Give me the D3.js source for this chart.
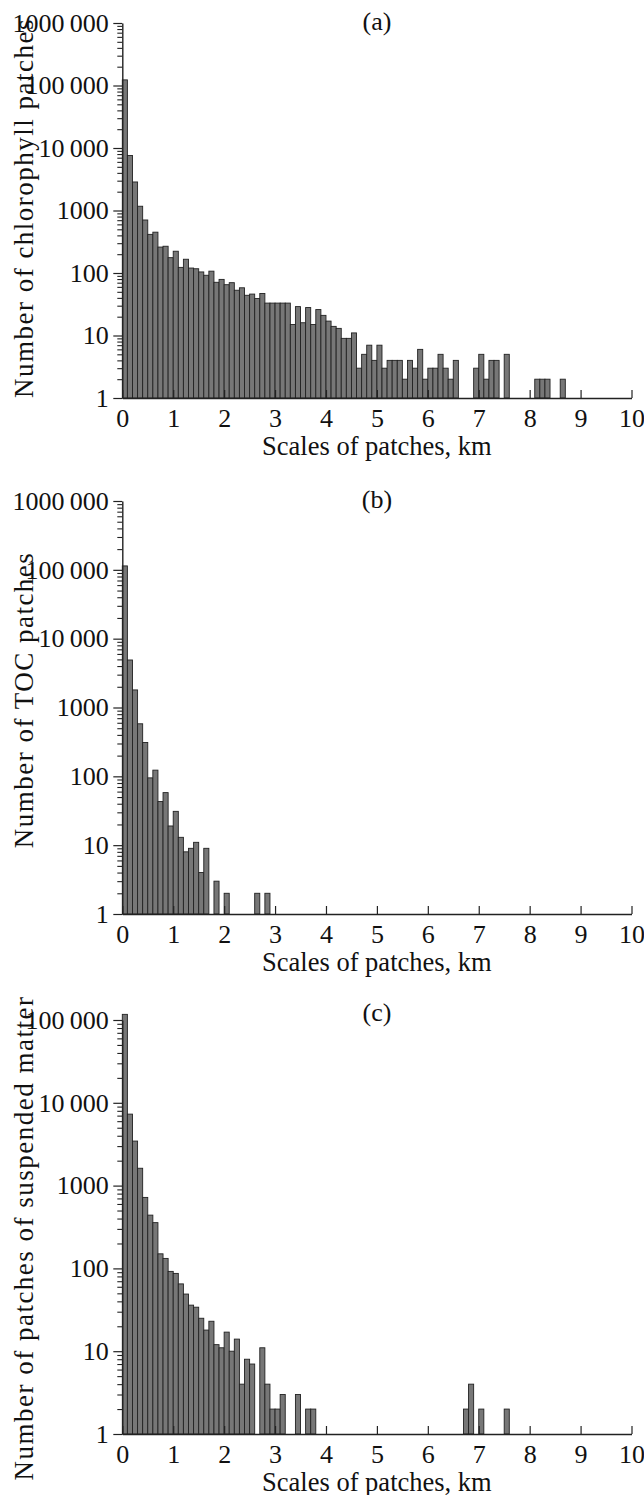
<!DOCTYPE html>
<html>
<head>
<meta charset="utf-8">
<script src="https://cdn.jsdelivr.net/npm/d3@7"></script>
<style>
  body { margin: 0; background: #fff; }
  text { font-family: "Liberation Serif", "Times New Roman", serif; fill: #111; }
</style>
</head>
<body>
<svg id="chart"></svg>
<script>
var width = 644,
  height = 1495;

// bin width of the histograms, km
var binWidth = 0.1;

// counts per 0.1 km bin, starting at 0 km
var chlorophyll = [
  123000, 7600, 2860, 1170, 705, 415, 450, 260, 268, 176,
  223, 123, 166, 120, 117, 104, 92, 107, 71, 79,
  65, 70, 53, 58, 44, 46, 39, 47, 33, 33,
  33, 33, 33, 15, 29, 16, 28, 15, 26, 21,
  17, 14, 13, 9, 9, 11, 3, 5, 7, 4,
  7, 3, 4, 4, 4, 2, 4, 3, 6, 2,
  3, 3, 5, 3, 2, 4, 0, 0, 0, 3,
  5, 2, 4, 4, 0, 5, 0, 0, 0, 0,
  0, 2, 2, 2, 0, 0, 2
];

var toc = [
  114000, 4900, 1800, 580, 310, 95, 123, 43, 58, 19,
  31, 13, 8, 9, 11, 4, 9, 0, 3, 0,
  2, 0, 0, 0, 0, 0, 2, 0, 2
];

var suspended = [
  117000, 7300, 3450, 1620, 720, 440, 357, 150, 132, 92,
  87, 65, 49, 36, 34, 25, 18, 23, 12, 11,
  17, 10, 14, 4, 8, 7, 0, 11, 4, 2,
  2, 3, 0, 0, 3, 0, 2, 2, 0, 0,
  0, 0, 0, 0, 0, 0, 0, 0, 0, 0,
  0, 0, 0, 0, 0, 0, 0, 0, 0, 0,
  0, 0, 0, 0, 0, 0, 0, 2, 4, 0,
  2, 0, 0, 0, 0, 2
];

var xTicks = [0, 1, 2, 3, 4, 5, 6, 7, 8, 9, 10];
var yTicksLong = [1, 10, 100, 1000, 10000, 100000, 1000000];
var yTicksShort = [1, 10, 100, 1000, 10000, 100000];

var xTitle = 'Scales of patches, km';
var yTitles = [
  'Number of chlorophyll patches',
  'Number of TOC patches',
  'Number of patches of suspended matter'
];
var letters = ['(a)', '(b)', '(c)'];

var panels = [
  { data: chlorophyll, ticks: yTicksLong, top: 23, bottom: 398, letterY: 30, titleY: 208 },
  { data: toc, ticks: yTicksLong, top: 501, bottom: 914, letterY: 508, titleY: 700 },
  { data: suspended, ticks: yTicksShort, top: 1020, bottom: 1434, letterY: 1021, titleY: 1238 }
];

var left = 122.3,
  right = 631.5;

var svg = d3.select('#chart')
  .attr('width', width)
  .attr('height', height);

var x = d3.scaleLinear()
  .domain([0, 10])
  .range([left, right]);

function fmt(d) {
  var s = String(d);
  // thin space as thousands separator, as in the print
  if (s.length > 4) s = s.slice(0, s.length - 3) + '\u2009' + s.slice(-3);
  return s;
}

panels.forEach(function(p, idx) {
  var y = d3.scaleLog()
    .domain([1, p.ticks[p.ticks.length - 1]])
    .range([p.bottom, p.top]);

  var g = svg.append('g');

  var minor = [];
  p.ticks.slice(0, -1).forEach(function(t) {
    for (var k = 2; k < 10; k++) minor.push(t * k);
  });

  // bars
  g.selectAll('.bar')
    .data(p.data.map(function(v, i) { return { i: i, v: v }; })
      .filter(function(d) { return d.v > 1; }))
    .enter().append('rect')
    .attr('class', 'bar')
    .attr('x', function(d) { return x(d.i * binWidth); })
    .attr('width', x(binWidth) - x(0))
    .attr('y', function(d) { return y(d.v); })
    .attr('height', function(d) { return y(1) - y(d.v); })
    .attr('fill', '#777')
    .attr('stroke', '#222')
    .attr('stroke-width', 0.9);

  // y axis, minor ticks
  g.append('g')
    .attr('transform', 'translate(' + left + ',0)')
    .call(d3.axisLeft(y).tickValues(minor).tickSize(5).tickSizeOuter(0).tickFormat(''))
    .call(function(a) {
      a.select('.domain').remove();
      a.selectAll('line').attr('stroke', '#222').attr('stroke-width', 1.1);
    });

  // y axis, decades
  g.append('g')
    .attr('transform', 'translate(' + left + ',0)')
    .call(d3.axisLeft(y).tickValues(p.ticks).tickSize(9).tickSizeOuter(0)
      .tickPadding(4.5).tickFormat(fmt))
    .call(function(a) {
      a.attr('font-family', null).attr('font-size', null);
      a.select('.domain').attr('stroke', '#222').attr('stroke-width', 1.4);
      a.selectAll('line').attr('stroke', '#222').attr('stroke-width', 1.2);
      a.selectAll('text').style('font-size', '26px').attr('fill', '#111');
    });

  // x axis
  g.append('g')
    .attr('transform', 'translate(0,' + p.bottom + ')')
    .call(d3.axisBottom(x).tickValues(xTicks).tickSize(-8).tickSizeOuter(0)
      .tickPadding(10.5).tickFormat(d3.format('d')))
    .call(function(a) {
      a.attr('font-family', null).attr('font-size', null);
      a.select('.domain').attr('stroke', '#222').attr('stroke-width', 1.4);
      a.selectAll('line').attr('stroke', '#222').attr('stroke-width', 1.2);
      a.selectAll('text').style('font-size', '26px').attr('fill', '#111');
    });

  g.append('text')
    .attr('x', (left + right) / 2)
    .attr('y', p.bottom + 56.5)
    .attr('text-anchor', 'middle')
    .style('font-size', '26.5px')
    .text(xTitle);

  g.append('text')
    .attr('x', (left + right) / 2)
    .attr('y', p.letterY)
    .attr('text-anchor', 'middle')
    .style('font-size', '26px')
    .text(letters[idx]);

  g.append('text')
    .attr('transform', 'translate(33,' + p.titleY + ')rotate(-90)')
    .attr('text-anchor', 'middle')
    .style('font-size', '27px')
    .style('letter-spacing', '1.5px')
    .text(yTitles[idx]);
});
</script>
</body>
</html>
